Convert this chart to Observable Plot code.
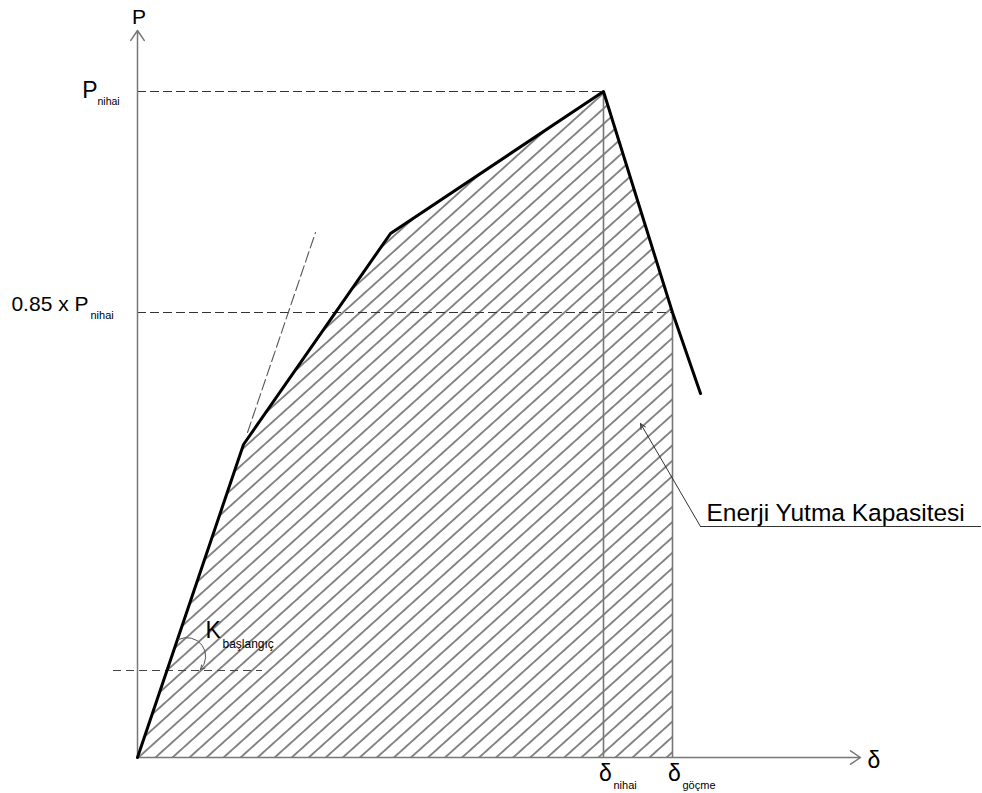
<!DOCTYPE html>
<html>
<head>
<meta charset="utf-8">
<script src="https://cdn.jsdelivr.net/npm/d3@7"></script>
<script src="https://cdn.jsdelivr.net/npm/@observablehq/plot@0.6"></script>
<style>
  html, body { margin: 0; padding: 0; background: #fff; }
  svg { display: block; }
</style>
</head>
<body>
<div id="chart"></div>
<script>
// ---- data (schematic units: δ horizontal, P vertical) ----
const curveDelta = [0, 106, 253, 466, 535, 563];
const curveP     = [0, 313, 524, 666, 445, 364];
const pNihai = 666;
const p085 = 445;
const deltaNihai = 466;
const deltaGocme = 535;
const axisEndX = 723;
const axisEndY = 727;
const tangentDelta = [110, 178];
const tangentP = [325, 525];
const kLevel = 87;
const kLevelRange = [-24, 125];
const kArcStart = [41, 118];
const kArcEnd = [63, 88];
const noteTip = [503, 334];
const noteElbow = [563, 231];
const noteEndX = 844;
const noteText = "Enerji Yutma Kapasitesi";
const kLabel = {main: "K", sub: "başlangıç", x: 68, y: 120, subX: 85, subY: 110};
const deltaTicks = [deltaNihai, deltaGocme];
const deltaSubs = ["nihai", "göçme"];

const curve = curveDelta.map((d, i) => ({x: d, y: curveP[i]}));
const shaded = curve.slice(0, 5);
const tangent = tangentDelta.map((d, i) => ({x: d, y: tangentP[i]}));
const deltaLabels = deltaTicks.map((d, i) => ({x: d, sub: deltaSubs[i]}));

const font = "Liberation Sans, Arial, sans-serif";

const svg = Plot.plot({
  width: 982,
  height: 793,
  margin: 0,
  style: {fontFamily: font, background: "#fff", overflow: "visible"},
  x: {domain: [0, axisEndX], range: [137, 860], axis: null},
  y: {domain: [0, axisEndY], range: [757, 30], axis: null},
  marks: [
    // hatched energy area
    Plot.areaY(shaded, {x: "x", y: "y", fill: "url(#hatch)"}),
    // vertical lines at δ nihai and δ göçme
    Plot.ruleX([{x: deltaNihai, y2: pNihai}, {x: deltaGocme, y2: p085}],
      {x: "x", y1: 0, y2: "y2", stroke: "#777", strokeWidth: 1.6}),
    // dashed level lines
    Plot.ruleY([{y: pNihai, x2: deltaNihai}, {y: p085, x2: deltaGocme}],
      {y: "y", x1: 0, x2: "x2", stroke: "#333", strokeWidth: 1, strokeDasharray: "9,4"}),
    Plot.ruleY([kLevel], {x1: kLevelRange[0], x2: kLevelRange[1], stroke: "#444", strokeWidth: 1, strokeDasharray: "8,5"}),
    // initial stiffness extension
    Plot.line(tangent, {x: "x", y: "y", stroke: "#555", strokeWidth: 1.1, strokeDasharray: "11,4"}),
    // axes
    Plot.arrow([{x1: 0, y1: 0, x2: axisEndX, y2: 0}, {x1: 0, y1: 0, x2: 0, y2: axisEndY}],
      {x1: "x1", y1: "y1", x2: "x2", y2: "y2", stroke: "#777", strokeWidth: 1.5, headLength: 12, headAngle: 68}),
    // load-displacement curve
    Plot.line(curve, {x: "x", y: "y", stroke: "#000", strokeWidth: 3, strokeLinejoin: "round"}),
    // K arc arrow
    Plot.arrow([{x1: kArcStart[0], y1: kArcStart[1], x2: kArcEnd[0], y2: kArcEnd[1]}],
      {x1: "x1", y1: "y1", x2: "x2", y2: "y2", bend: 80, stroke: "#555", strokeWidth: 1, headLength: 7, headAngle: 60}),
    // annotation leader
    Plot.arrow([{x1: noteElbow[0], y1: noteElbow[1], x2: noteTip[0], y2: noteTip[1]}],
      {x1: "x1", y1: "y1", x2: "x2", y2: "y2", stroke: "#333", strokeWidth: 1, headLength: 9, headAngle: 50}),
    Plot.ruleY([noteElbow[1]], {x1: noteElbow[0], x2: noteEndX, stroke: "#333", strokeWidth: 1}),
    Plot.text([noteText], {x: noteElbow[0], y: noteElbow[1], text: d => d, textAnchor: "start", lineAnchor: "bottom",
      dx: 6, dy: -6, fontSize: 24.5, fill: "#000"}),
    // axis labels
    Plot.text(["P"], {x: 0, y: axisEndY, text: d => d, textAnchor: "middle", lineAnchor: "bottom", dx: 1.5, dy: -7, fontSize: 21, fill: "#000"}),
    Plot.text(["δ"], {x: axisEndX, y: 0, text: d => d, textAnchor: "start", lineAnchor: "bottom", dx: 7, dy: 10, fontSize: 23, fill: "#000"}),
    // P nihai labels
    Plot.text(["P"], {x: 0, y: pNihai, text: d => d, textAnchor: "end", lineAnchor: "bottom", dx: -40, dy: 6, fontSize: 23, fill: "#000"}),
    Plot.text(["nihai"], {x: 0, y: pNihai, text: d => d, textAnchor: "start", lineAnchor: "bottom", dx: -40, dy: 13, fontSize: 10.5, fill: "#000"}),
    Plot.text(["0.85 x P"], {x: 0, y: p085, text: d => d, textAnchor: "end", lineAnchor: "bottom", dx: -49, dy: -2, fontSize: 21, fill: "#000"}),
    Plot.text(["nihai"], {x: 0, y: p085, text: d => d, textAnchor: "start", lineAnchor: "bottom", dx: -47, dy: 6, fontSize: 11, fill: "#000"}),
    // δ labels
    Plot.text(deltaLabels, {x: "x", y: 0, text: () => "δ", textAnchor: "middle", lineAnchor: "bottom",
      dx: 2, dy: 23, fontSize: 23, fill: "#000"}),
    Plot.text(deltaLabels, {x: "x", y: 0, text: "sub", textAnchor: "start", lineAnchor: "bottom",
      dx: 10, dy: 31, fontSize: 11, fill: "#000"}),
    // K başlangıç label
    Plot.text([kLabel], {x: "x", y: "y", text: "main", textAnchor: "start", lineAnchor: "bottom", fontSize: 23, fill: "#000"}),
    Plot.text([kLabel], {x: "subX", y: "subY", text: "sub", textAnchor: "start", lineAnchor: "bottom", fontSize: 12, fill: "#000"})
  ]
});

const ns = "http://www.w3.org/2000/svg";
const defs = document.createElementNS(ns, "defs");
defs.innerHTML = '<pattern id="hatch" patternUnits="userSpaceOnUse" width="20" height="11.4" patternTransform="rotate(-42)">' +
  '<line x1="-5" y1="5.7" x2="25" y2="5.7" stroke="#555" stroke-width="1.4"/></pattern>';
svg.insertBefore(defs, svg.firstChild);
document.getElementById("chart").appendChild(svg);
</script>
</body>
</html>
